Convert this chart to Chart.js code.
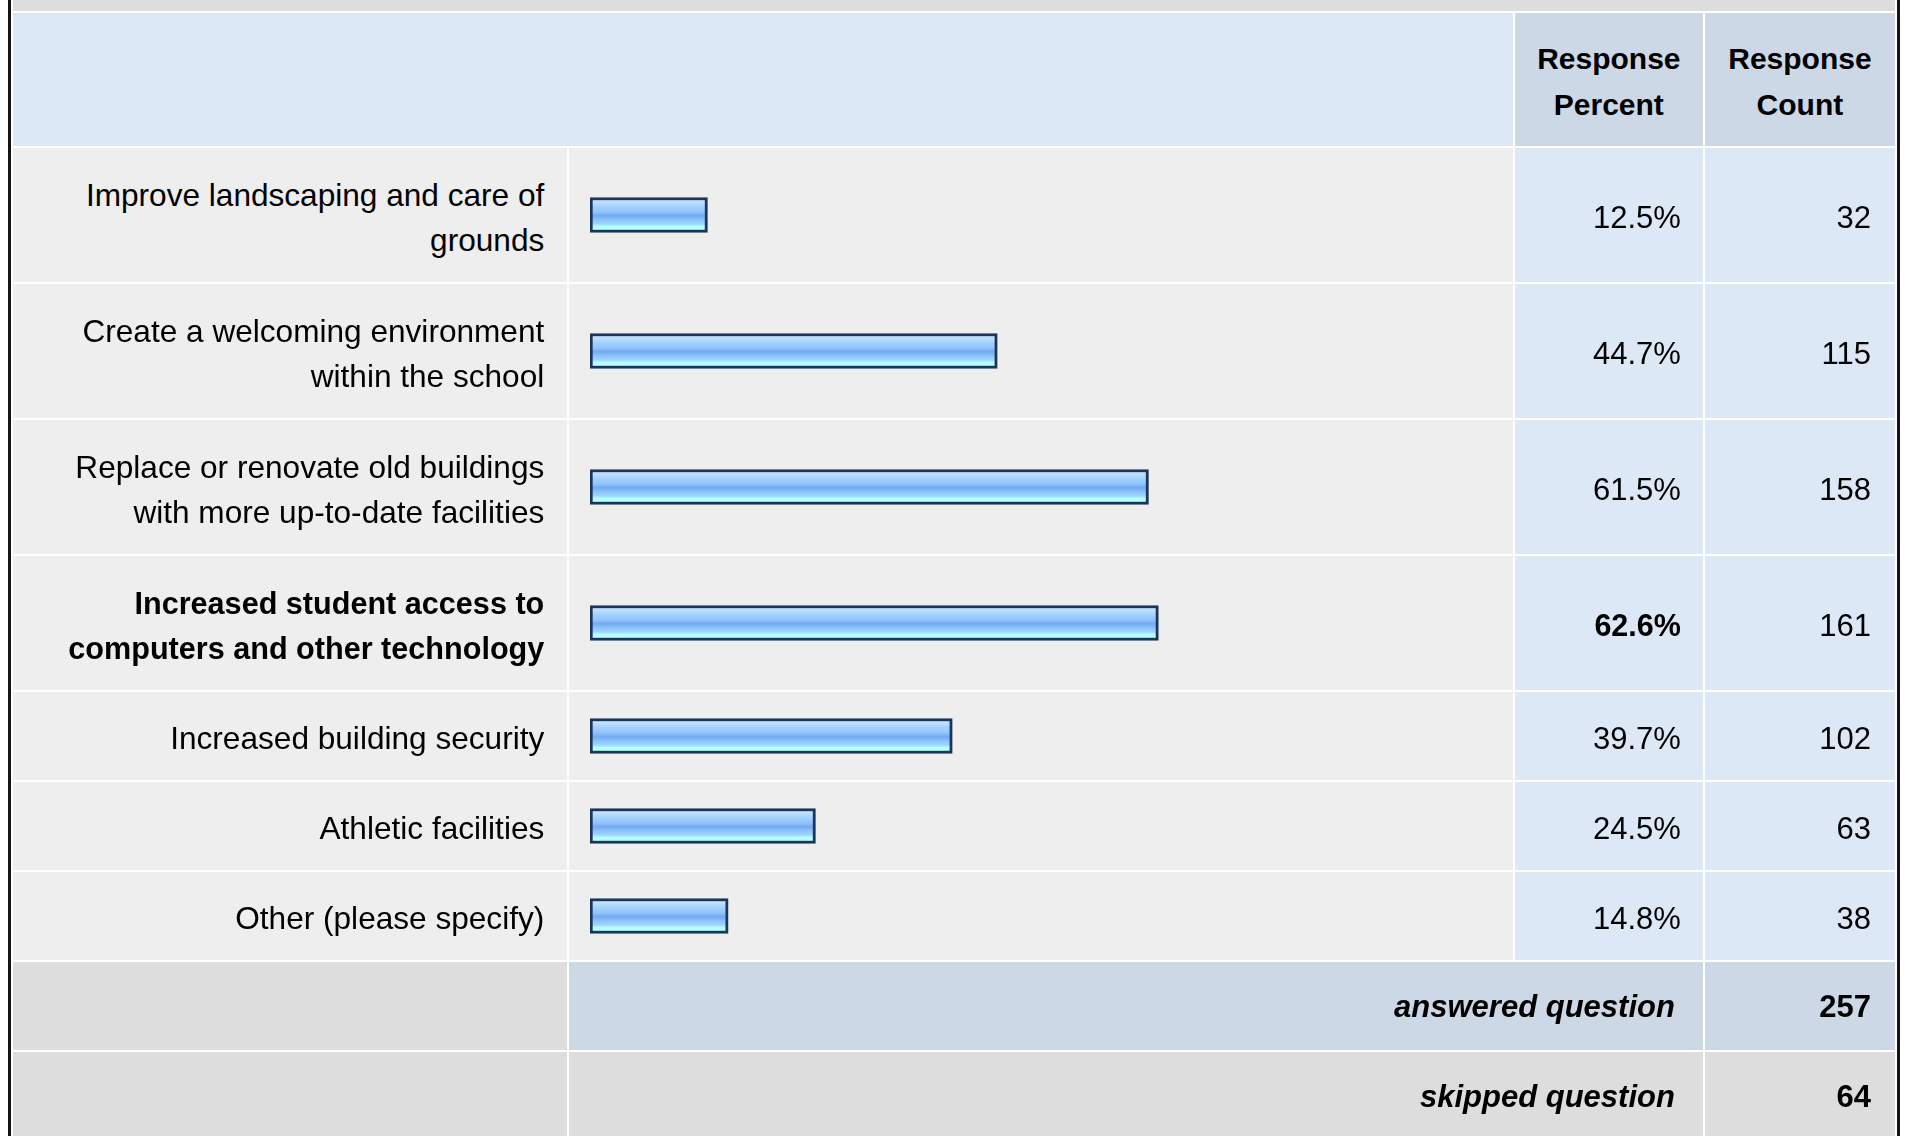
<!DOCTYPE html>
<html>
<head>
<meta charset="utf-8">
<script src="https://cdn.jsdelivr.net/npm/chart.js@4.4.1/dist/chart.umd.min.js"></script>
<style>
  html, body { margin: 0; padding: 0; background: #fff; overflow: hidden; }
  body { font-family: "Liberation Sans", Arial, sans-serif; color: #000; }
  #wrap {
    position: absolute; left: 8px; top: 0;
    border-left: 3px solid #141414; border-right: 3px solid #141414;
    width: 1886px; height: 1136px; overflow: hidden; background: #fff;
  }
  table { border-collapse: separate; border-spacing: 2px; table-layout: fixed; width: 1886px; margin-top: -2px; }
  td { padding: 5px 0 0 0; font-size: 31px; line-height: 45px; vertical-align: middle; white-space: nowrap; }
  .band td { background: #dddddd; height: 11px; padding: 0; }
  .head td { background: #dce8f5; height: 128px; }
  .head td.col { background: #ccd8e6; text-align: center; font-weight: bold; font-size: 30px; line-height: 46px; }
  .lbl { background: #eeeeee; text-align: right; padding-right: 23px; font-size: 31.6px; }
  .lbl.b { font-size: 30.6px; }
  .bar { background: #eeeeee; padding: 0; }
  .bar canvas { display: block; }
  .pct { background: #dce8f5; text-align: right; padding-right: 22px; }
  .pct.b { font-size: 30.5px; }
  .cnt { background: #dce8f5; text-align: right; padding-right: 24px; }
  .b { font-weight: bold; }
  .foot td { height: 88px; padding-top: 0; }
  .g { background: #dddddd; }
  .sum { background: #ccd8e6; }
  .ft { text-align: right; padding-right: 28px; font-weight: bold; font-style: italic; }
  .fc { text-align: right; padding-right: 24px; font-weight: bold; }
</style>
</head>
<body>
<div id="wrap">
  <table id="tbl">
    <colgroup>
      <col style="width:554px"><col style="width:943px"><col style="width:188px"><col style="width:190px">
    </colgroup>
    <tbody id="body"></tbody>
  </table>
</div>
<script>
// Antwortoptionen (Zeilen, mit Zeilenumbruch wie im Original)
const categories = [
  ['Improve landscaping and care of', 'grounds'],
  ['Create a welcoming environment', 'within the school'],
  ['Replace or renovate old buildings', 'with more up-to-date facilities'],
  ['Increased student access to', 'computers and other technology'],
  ['Increased building security'],
  ['Athletic facilities'],
  ['Other (please specify)']
];
const responsePercent = [12.5, 44.7, 61.5, 62.6, 39.7, 24.5, 14.8];
const responseCount = [32, 115, 158, 161, 102, 63, 38];
const answeredQuestion = 257;
const skippedQuestion = 64;

const tbody = document.getElementById('body');
const maxIdx = responsePercent.indexOf(Math.max(...responsePercent));

let html = `
  <tr class="band"><td colspan="4"></td></tr>
  <tr class="head">
    <td colspan="2"></td>
    <td class="col">Response<br>Percent</td>
    <td class="col">Response<br>Count</td>
  </tr>`;

categories.forEach((lines, i) => {
  const h = lines.length > 1 ? 134 : 88;
  const bold = i === maxIdx ? ' b' : '';
  html += `
  <tr style="height:${h}px">
    <td class="lbl${bold}">${lines.join('<br>')}</td>
    <td class="bar"><canvas id="bar-${i}" width="943" height="${h}"></canvas></td>
    <td class="pct${bold}">${responsePercent[i].toFixed(1)}%</td>
    <td class="cnt">${responseCount[i]}</td>
  </tr>`;
});

html += `
  <tr class="foot">
    <td class="g"></td>
    <td class="sum ft" colspan="2">answered question</td>
    <td class="sum fc">${answeredQuestion}</td>
  </tr>
  <tr class="foot">
    <td class="g"></td>
    <td class="g ft" colspan="2">skipped question</td>
    <td class="g fc">${skippedQuestion}</td>
  </tr>`;

tbody.innerHTML = html;

// Balkenverlauf wie im Original (hellblau -> blau -> cyan)
function barGradient(context) {
  const chart = context.chart;
  const area = chart.chartArea;
  if (!area) return '#8cc0fa';
  const mid = (area.top + area.bottom) / 2;
  const g = chart.ctx.createLinearGradient(0, mid - 17, 0, mid + 17);
  g.addColorStop(0, '#d2eaff');
  g.addColorStop(0.12, '#c0e0ff');
  g.addColorStop(0.25, '#a4d2ff');
  g.addColorStop(0.42, '#8fc2fb');
  g.addColorStop(0.52, '#72a9f0');
  g.addColorStop(0.64, '#8cc2fc');
  g.addColorStop(0.76, '#a0d4ff');
  g.addColorStop(0.84, '#b4ffff');
  g.addColorStop(1, '#b4ffff');
  return g;
}

// Rahmen des Balkens liegt im Original ausserhalb -> Basis leicht unter 0
const barBase = -0.55;

categories.forEach((lines, i) => {
  const ctx = document.getElementById(`bar-${i}`).getContext('2d');
  new Chart(ctx, {
    type: 'bar',
    data: {
      labels: [lines.join(' ')],
      datasets: [{
        data: [responsePercent[i]],
        base: barBase,
        backgroundColor: barGradient,
        borderColor: '#1b3459',
        borderWidth: 3,
        borderSkipped: false,
        barThickness: 35
      }]
    },
    options: {
      indexAxis: 'y',
      responsive: false,
      animation: false,
      layout: { padding: { left: 21, right: 17, top: 0, bottom: 0 } },
      plugins: { legend: { display: false }, tooltip: { enabled: false } },
      scales: {
        x: { min: barBase, max: 100, display: false },
        y: { display: false }
      }
    }
  });
});
</script>
</body>
</html>
